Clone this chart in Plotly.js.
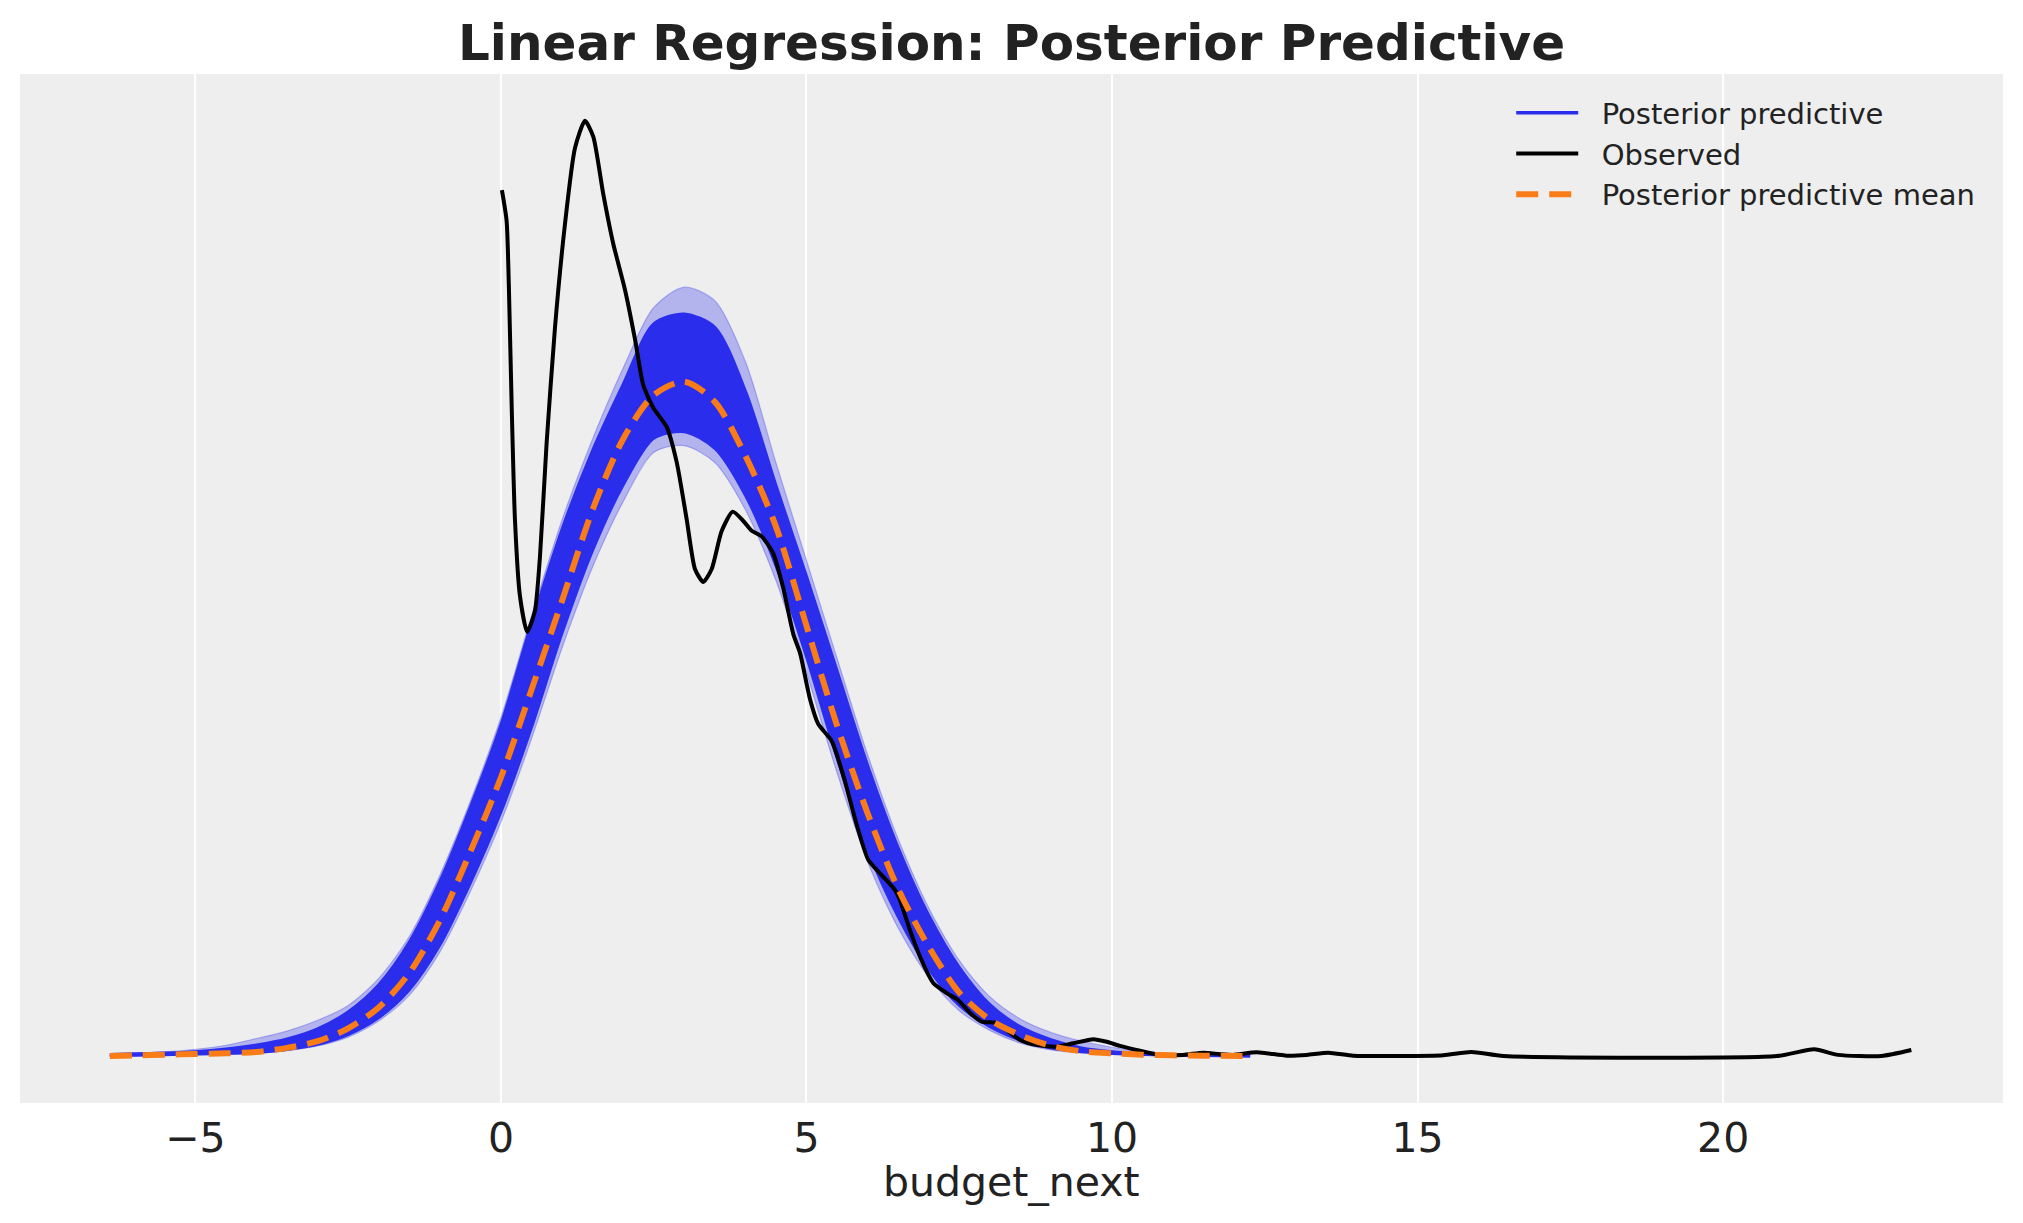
<!DOCTYPE html>
<html>
<head>
<meta charset="utf-8">
<script src="https://cdn.plot.ly/plotly-3.0.1.min.js"></script>
<style>html,body{margin:0;padding:0;background:#fff;}#chart{width:2023px;height:1223px;}</style>
</head>
<body>
<div id="chart"></div>
<script>
// ---- data (density units) ----
const PEAK = 0.18; // density of the posterior predictive mean at its mode

const ppX = [-6.4,-6,-5.5,-5,-4.5,-4,-3.5,-3,-2.5,-2,-1.5,-1,-0.5,0,0.5,1,1.5,2,2.5,3,3.5,4,4.5,5,5.5,6,6.5,7,7.5,8,8.5,9,9.5,10,10.5,11,11.5,12.26];

// relative heights (1 = mean peak)
const ppMeanRel = [0,0.001,0.002,0.003,0.004,0.006,0.012,0.022,0.041,0.072,0.123,0.201,0.303,0.413,0.543,0.675,0.81,0.915,0.98,1.0,0.97,0.89,0.785,0.638,0.49,0.36,0.248,0.162,0.094,0.054,0.031,0.015,0.007,0.004,0.002,0.001,0.0005,0];
const ppCoreUpperRel = [0.002,0.003,0.004,0.006,0.010,0.016,0.025,0.040,0.065,0.105,0.168,0.258,0.368,0.49,0.64,0.78,0.897,0.995,1.085,1.10,1.08,0.985,0.845,0.71,0.57,0.43,0.308,0.208,0.131,0.076,0.043,0.024,0.0115,0.0058,0.003,0.0015,0.001,0];
const ppCoreLowerRel = [0,0.0004,0.0013,0.0022,0.0032,0.0045,0.009,0.0165,0.031,0.056,0.097,0.163,0.255,0.36,0.485,0.625,0.748,0.845,0.915,0.925,0.9,0.83,0.725,0.59,0.44,0.305,0.205,0.128,0.074,0.043,0.023,0.011,0.0055,0.003,0.0015,0.0007,0.0003,0];
const ppOuterUpperRel = [0.003,0.004,0.006,0.010,0.016,0.026,0.037,0.053,0.075,0.115,0.177,0.268,0.378,0.502,0.652,0.795,0.915,1.02,1.11,1.14,1.12,1.03,0.88,0.735,0.59,0.447,0.322,0.22,0.142,0.088,0.055,0.035,0.022,0.013,0.007,0.003,0.0015,0];
const ppOuterLowerRel = [0,0.0002,0.001,0.0018,0.0027,0.0038,0.0078,0.0148,0.028,0.052,0.09,0.154,0.244,0.347,0.47,0.605,0.725,0.822,0.895,0.905,0.88,0.81,0.705,0.568,0.42,0.288,0.19,0.117,0.067,0.038,0.019,0.009,0.0045,0.0025,0.0012,0.0005,0.0002,0];

const obsX = [0.016,0.093,0.131,0.175,0.229,0.311,0.430,0.556,0.638,0.748,0.884,1.047,1.211,1.375,1.511,1.674,1.838,2.029,2.193,2.329,2.493,2.712,2.876,3.039,3.175,3.311,3.449,3.612,3.792,3.966,4.103,4.267,4.457,4.620,4.784,4.894,5.057,5.193,5.412,5.602,5.822,6.011,6.257,6.449,6.530,6.694,6.858,7.075,7.295,7.484,7.676,7.867,8.113,8.277,8.494,8.768,9.095,9.367,9.694,9.913,10.131,10.458,10.786,11.162,11.494,11.767,11.98,12.368,12.859,13.187,13.54,13.949,14.71,15.42,15.88,16.41,20.88,21.49,21.88,22.59,23.08];
const obsY = [0.2311,0.2229,0.2046,0.1740,0.1433,0.1228,0.1132,0.1188,0.1331,0.1637,0.1943,0.2219,0.2423,0.2496,0.2454,0.2301,0.2168,0.2046,0.1914,0.1791,0.1730,0.1679,0.1585,0.1433,0.1300,0.1265,0.1300,0.1401,0.1453,0.1428,0.1402,0.1387,0.1341,0.1249,0.1126,0.1076,0.0953,0.0886,0.0841,0.0749,0.0617,0.0524,0.0478,0.0443,0.0416,0.0336,0.0265,0.0195,0.0168,0.0149,0.0115,0.0092,0.0088,0.0069,0.0043,0.0029,0.0025,0.0034,0.0045,0.0038,0.0027,0.0014,0.0003,0.0003,0.0009,0.0005,0.0003,0.0010,0.0001,0.0003,0.0009,0.0001,0,0.0002,0.0011,0,0,0.0018,0.0003,0,0.0016];

const xTickVals = [-5,0,5,10,15,20];
const xTickText = ['\u22125','0','5','10','15','20'];
const xAxisLabel = 'budget_next';

// ---- build traces ----
const toDens = a => a.map(v => v * PEAK);
const BLUE = '#2a2eec', ORANGE = '#fa7c17';
const NB = '&nbsp;&nbsp;';

const traces = [
  {x: ppX, y: toDens(ppOuterUpperRel), mode: 'lines', line: {color: 'rgba(42,46,236,0.3)', width: 1.2, shape: 'spline', smoothing: 0.8}, showlegend: false, hoverinfo: 'skip', legendgroup: 'a'},
  {x: ppX, y: toDens(ppOuterLowerRel), mode: 'lines', line: {color: 'rgba(42,46,236,0.3)', width: 1.2, shape: 'spline', smoothing: 0.8}, fill: 'tonexty', fillcolor: 'rgba(42,46,236,0.3)', showlegend: false, hoverinfo: 'skip', legendgroup: 'a'},
  {x: ppX, y: toDens(ppCoreUpperRel), mode: 'lines', name: NB + 'Posterior predictive', legendgroup: 'a', line: {color: BLUE, width: 3.5, shape: 'spline', smoothing: 0.8}},
  {x: ppX, y: toDens(ppCoreLowerRel), mode: 'lines', line: {color: BLUE, width: 2, shape: 'spline', smoothing: 0.8}, fill: 'tonexty', fillcolor: BLUE, showlegend: false, hoverinfo: 'skip', legendgroup: 'a'},
  {x: obsX, y: obsY, mode: 'lines', name: NB + 'Observed', legendgroup: 'b', line: {color: '#000000', width: 4, shape: 'spline', smoothing: 0.6}},
  {x: ppX, y: toDens(ppMeanRel), mode: 'lines', name: NB + 'Posterior predictive mean', legendgroup: 'c', line: {color: ORANGE, width: 6, dash: '22px,11px', shape: 'spline', smoothing: 0.8}}
];

const layout = {
  width: 2023, height: 1223,
  margin: {l: 20, r: 20, t: 74, b: 120},
  paper_bgcolor: '#ffffff', plot_bgcolor: '#eeeeee',
  font: {family: 'DejaVu Sans', color: '#222222'},
  title: {text: '<b>Linear Regression: Posterior Predictive</b>', font: {family: 'DejaVu Sans', size: 50, color: '#222222'}, x: 0.5, xanchor: 'center', yref: 'container', y: 0.965, yanchor: 'middle'},
  xaxis: {
    range: [-7.87, 24.58], tickvals: xTickVals, ticktext: xTickText,
    showgrid: true, gridcolor: '#ffffff', gridwidth: 2, zeroline: false, showline: false, ticks: '',
    ticklabelstandoff: 7,
    tickfont: {family: 'DejaVu Sans', size: 41, color: '#222222'}
  },
  yaxis: {range: [-0.01254, 0.2621], showticklabels: false, showgrid: false, zeroline: false, showline: false, ticks: ''},
  annotations: [{text: xAxisLabel, xref: 'paper', yref: 'paper', x: 0.5, y: -0.0765, xanchor: 'center', yanchor: 'middle', showarrow: false, font: {family: 'DejaVu Sans', size: 41, color: '#222222'}}],
  legend: {x: 0.752, y: 0.987, xanchor: 'left', yanchor: 'top', traceorder: 'normal', bgcolor: 'rgba(0,0,0,0)', font: {family: 'DejaVu Sans', size: 29, color: '#222222'}, itemwidth: 62, tracegroupgap: 9},
  showlegend: true
};

Plotly.newPlot('chart', traces, layout, {displayModeBar: false, staticPlot: true});
</script>
</body>
</html>
